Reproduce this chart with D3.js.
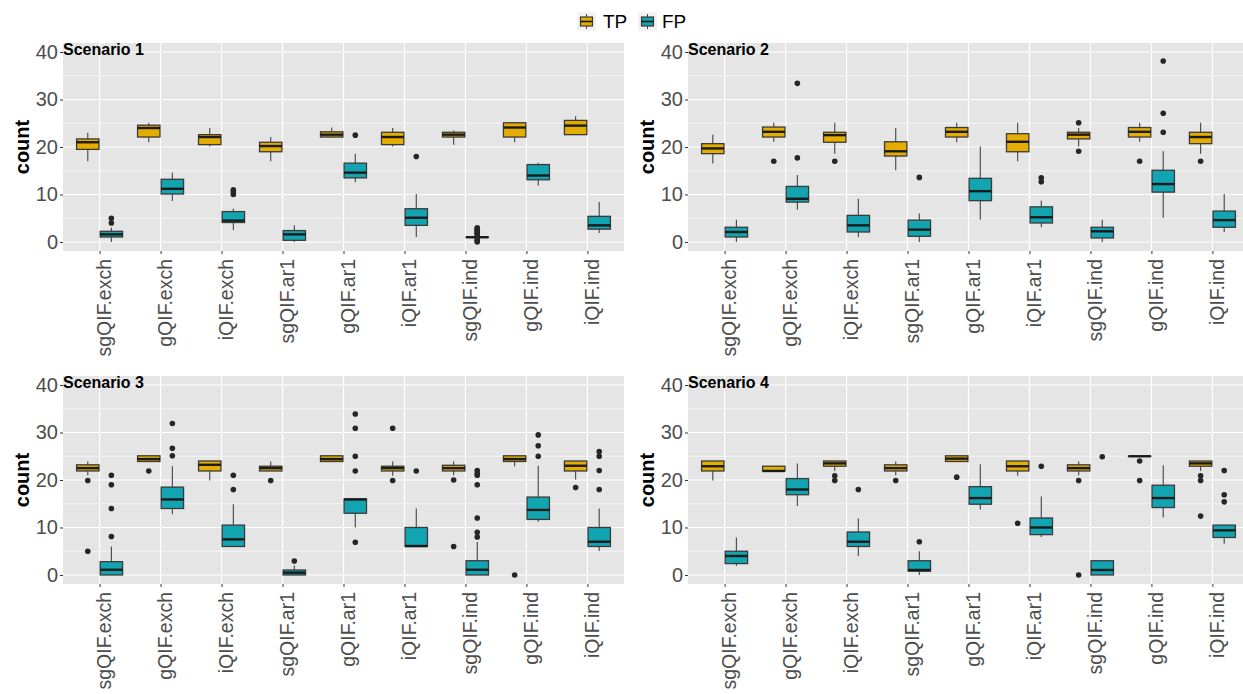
<!DOCTYPE html>
<html>
<head>
<meta charset="utf-8">
<script src="https://cdn.jsdelivr.net/npm/d3@7"></script>
<style>
  html, body { margin: 0; padding: 0; background: #fff; }
  svg { display: block; font-family: "Liberation Sans", Arial, sans-serif; }
</style>
</head>
<body>
<svg id="chart" width="1243" height="694"></svg>
<script>
// ---------------- data ----------------
const categories = ["sgQIF.exch","gQIF.exch","iQIF.exch","sgQIF.ar1","gQIF.ar1","iQIF.ar1","sgQIF.ind","gQIF.ind","iQIF.ind"];
const seriesNames = ["TP","FP"];
const scenarioNames = ["Scenario 1","Scenario 2","Scenario 3","Scenario 4"];
const yTicks = [0,10,20,30,40];

// box stats per category: [lower whisker, Q1, median, Q3, upper whisker]
const s1TP = [[17,19.5,21,21.7,23],[21,22.1,24,24.6,25.1],[20.1,20.5,22.1,22.6,24],[17,19,20.2,21,22.1],[22,22.1,22.6,23.2,24.1],[20.1,20.5,22.1,23.1,24],[20.5,22.1,22.6,23.1,23.5],[21,22.1,24.1,25.1,25.1],[22.6,22.6,24.5,25.6,26.5]];
const s1TPout = [[],[],[],[],[],[],[],[],[]];
const s1FP = [[0,1.05,1.6,2.25,3],[8.65,10.1,11.2,13.2,14.6],[2.5,4.1,4.5,6.4,7],[0,0.35,1.6,2.4,3.5],[12.6,13.5,14.6,16.6,18.6],[1.05,3.5,5.1,7,10.1],[1,1,1,1,1],[11.9,13.1,14,16.3,16.7],[1.9,2.7,3.5,5.4,8.4]];
const s1FPout = [[4,5],[],[10,10.5,11],[],[22.5],[18],[0,0.25,0.5,1.5,1.75,2,2.25,2.5,2.75,3],[],[]];

const s2TP = [[16.5,18.6,19.7,20.7,22.6],[21.1,22.1,23.2,24.2,25.1],[18.6,21,22.5,23.1,25.1],[15.1,18.1,19.1,21.1,24],[21,22.1,23.2,24.1,25.1],[17,19,21.1,22.8,25.1],[20.1,21.7,22.6,23.1,24],[21.1,22.1,23.2,24.1,25.1],[18.6,20.7,22.1,23.1,25.1]];
const s2TPout = [[],[17],[17],[],[],[],[25.1,19.1],[17],[17]];
const s2FP = [[0,1.05,2.1,3.1,4.7],[6.8,8.4,9.1,11.7,14.1],[1.05,2.1,3.5,5.6,9.1],[0,1.2,2.6,4.6,6],[4.7,8.7,10.7,13.4,20.1],[3.1,4,5.2,7.4,8.7],[0,0.85,2.25,3.1,4.7],[5.1,10.5,12.2,15.1,19.1],[2.1,3.1,4.6,6.5,10.1]];
const s2FPout = [[],[33.4,17.7],[],[13.6],[],[13.5,12.7],[],[38.1,27.1,23.1],[]];

const s3TP = [[21,21.9,22.5,23.2,23.9],[23.9,23.9,24.4,25.1,25.1],[19.9,21.9,23.2,24,24],[21.9,21.9,22.5,22.9,23.9],[23.9,23.9,24.4,25.1,25.1],[20.9,21.9,22.5,22.9,23.9],[21,21.9,22.5,23.1,23.9],[22.9,23.9,24.4,25.1,25.1],[20.1,21.9,23,24,24]];
const s3TPout = [[19.9,5],[21.9],[],[19.9],[],[30.9,19.9],[20,6],[0],[18.4]];
const s3FP = [[0,0,1.1,2.8,6],[12.8,14,15.9,18.5,22.9],[6,6,7.5,10.5,14.9],[0,0,0.5,1.05,2],[10,13,15.9,16,16],[6,6,6.1,10,14],[0,0,1.1,3,6.95],[11.2,11.7,13.7,16.4,23],[5.05,6,7,10,14]];
const s3FPout = [[21,19,14,8.1],[31.9,26.7,25.1],[21,18],[2.95],[33.9,30.9,25,21.9,6.9],[21.9],[22,21.4,21,19,12,9,8],[29.5,27.2,25],[26,25,22,18]];

const s4TP = [[19.9,21.9,22.9,24,24],[21.9,21.9,21.9,22.9,22.9],[21.9,22.9,23.5,24,24],[21,21.9,22.5,23.2,23.9],[23.9,23.9,24.5,25.1,25.1],[20.9,21.9,22.9,24,24],[21,21.9,22.5,23.2,23.9],[25,25,25,25,25],[21.9,22.9,23.5,24,24]];
const s4TPout = [[],[],[20.9,19.9],[19.9],[20.6],[10.9],[19.9,0],[24,19.9],[20.9,19.9,12.4]];
const s4FP = [[1.9,2.4,4,5,7.9],[14.5,16.9,18,20.3,23.5],[4,6,7,9.05,11.9],[0,0.8,1.05,3,5],[13.8,14.9,16.2,18.6,23.3],[8,8.5,10,12,16.5],[0,0,1.05,3,3],[12.1,14.2,16.2,18.9,23.1],[6.6,7.9,9.4,10.5,10.5]];
const s4FPout = [[],[],[18],[7],[],[22.9],[24.9],[],[22,16.9,15.4]];

// ---------------- build ----------------
const scenarios = [
  {name: scenarioNames[0], TP: s1TP, TPout: s1TPout, FP: s1FP, FPout: s1FPout},
  {name: scenarioNames[1], TP: s2TP, TPout: s2TPout, FP: s2FP, FPout: s2FPout},
  {name: scenarioNames[2], TP: s3TP, TPout: s3TPout, FP: s3FP, FPout: s3FPout},
  {name: scenarioNames[3], TP: s4TP, TPout: s4TPout, FP: s4FP, FPout: s4FPout}
];
const colors = {TP: "#E3AD02", FP: "#12A4B0"};

const svg = d3.select("#chart");
const panelW = 561, panelH = 208;
const panelPos = [[63,43],[688,43],[63,376],[688,376]];

const y = d3.scaleLinear().domain([-1.9, 41.9]).range([panelH, 0]);
const x = d3.scalePoint().domain(categories).range([0, panelW]).padding(0.6);
const dodge = d3.scaleBand().domain(seriesNames).range([-23, 23]).paddingInner(0.05);
const boxW = dodge.bandwidth();

scenarios.forEach((sc, i) => {
  const [px, py] = panelPos[i];
  const g = svg.append("g").attr("transform", `translate(${px},${py})`);
  g.append("rect").attr("width", panelW).attr("height", panelH).attr("fill", "#E5E5E5");
  // minor grid
  [5,15,25,35].forEach(v => g.append("line").attr("x1",0).attr("x2",panelW)
     .attr("y1",y(v)).attr("y2",y(v)).attr("stroke","#fff").attr("stroke-width",0.6));
  // major grid
  yTicks.forEach(v => g.append("line").attr("x1",0).attr("x2",panelW)
     .attr("y1",y(v)).attr("y2",y(v)).attr("stroke","#fff").attr("stroke-width",1.2));
  categories.forEach(c => g.append("line").attr("x1",x(c)).attr("x2",x(c))
     .attr("y1",0).attr("y2",panelH).attr("stroke","#fff").attr("stroke-width",1.2));

  // y axis
  const ya = d3.axisLeft(y).tickValues(yTicks).tickSize(3).tickPadding(2);
  const yg = g.append("g").call(ya);
  yg.select(".domain").remove();
  yg.selectAll(".tick line").attr("stroke","#333").attr("stroke-width",1);
  yg.selectAll(".tick text").attr("fill","#4D4D4D").style("font-size","20px")
    .style("font-family","'Liberation Sans', Arial, sans-serif");

  // x axis
  const xa = d3.axisBottom(x).tickSize(3).tickPadding(0);
  const xg = g.append("g").attr("transform",`translate(0,${panelH})`).call(xa);
  xg.select(".domain").remove();
  xg.selectAll(".tick line").attr("stroke","#333").attr("stroke-width",1);
  xg.selectAll(".tick text")
    .attr("fill","#4D4D4D").style("font-size","19.5px")
    .style("font-family","'Liberation Sans', Arial, sans-serif")
    .attr("text-anchor","end").attr("dy", null).attr("y", null)
    .attr("transform","translate(4,8) rotate(-90)")
    .attr("dominant-baseline","central");

  // y label
  svg.append("text").attr("transform",`translate(${px-34},${py+panelH/2}) rotate(-90)`)
    .attr("text-anchor","middle").style("font-size","20px").style("font-weight","bold")
    .attr("fill","#000").text("count");

  // scenario label
  g.append("text").attr("x",0).attr("y",12).style("font-size","16px")
    .style("font-weight","bold").attr("fill","#000").text(sc.name);

  // boxes
  seriesNames.forEach(s => {
    const stats = sc[s], outs = sc[s+"out"];
    categories.forEach((c, k) => {
      const [lo,q1,med,q3,hi] = stats[k];
      const cx = x(c) + dodge(s) + boxW/2;
      const bg = g.append("g");
      bg.append("line").attr("x1",cx).attr("x2",cx).attr("y1",y(hi)).attr("y2",y(q3))
        .attr("stroke","#444").attr("stroke-width",1.1);
      bg.append("line").attr("x1",cx).attr("x2",cx).attr("y1",y(q1)).attr("y2",y(lo))
        .attr("stroke","#444").attr("stroke-width",1.1);
      bg.append("rect").attr("x",cx-boxW/2).attr("width",boxW)
        .attr("y",y(q3)).attr("height",Math.max(0.01,y(q1)-y(q3)))
        .attr("fill",colors[s]).attr("stroke","#3a3a3a").attr("stroke-width",1.3);
      bg.append("line").attr("x1",cx-boxW/2).attr("x2",cx+boxW/2).attr("y1",y(med)).attr("y2",y(med))
        .attr("stroke","#1a1a1a").attr("stroke-width",2.4);
      outs[k].forEach(v => bg.append("circle").attr("cx",cx).attr("cy",y(v)).attr("r",2.8)
        .attr("fill","#262626"));
    });
  });
});

// legend
const leg = svg.append("g");
const legItems = [{s:"TP", x:577, tx:603},{s:"FP", x:638, tx:662}];
legItems.forEach(it => {
  const kg = leg.append("g").attr("transform",`translate(${it.x},12)`);
  kg.append("rect").attr("width",19).attr("height",19).attr("fill","#F2F2F2");
  kg.append("line").attr("x1",9.5).attr("x2",9.5).attr("y1",2).attr("y2",17).attr("stroke","#444").attr("stroke-width",1);
  kg.append("rect").attr("x",3.5).attr("y",5).attr("width",12).attr("height",9)
    .attr("fill",colors[it.s]).attr("stroke","#3a3a3a").attr("stroke-width",1.2);
  kg.append("line").attr("x1",3.5).attr("x2",15.5).attr("y1",9.5).attr("y2",9.5).attr("stroke","#1a1a1a").attr("stroke-width",1.6);
  leg.append("text").attr("x",it.tx).attr("y",21.5).attr("dominant-baseline","central")
    .style("font-size","19px").attr("fill","#000").text(it.s);
});
</script>
</body>
</html>
